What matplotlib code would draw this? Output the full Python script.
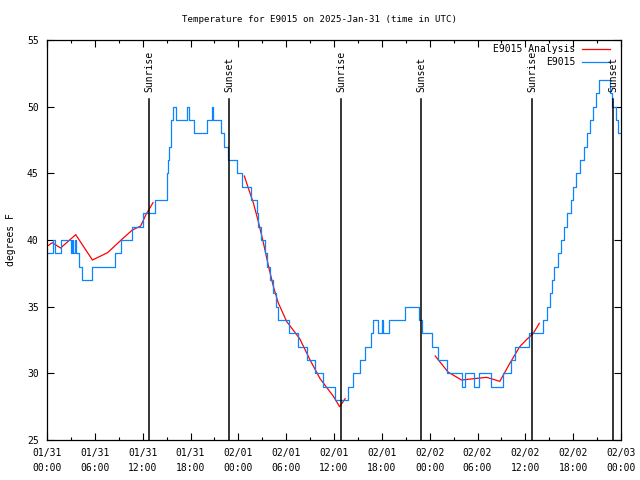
import numpy as np
import pandas as pd
import matplotlib
matplotlib.use("Agg")
import matplotlib.pyplot as plt
import matplotlib.dates as mdates

plt.rcParams['font.family'] = ['DejaVu Sans Mono']

start = pd.Timestamp('2025-01-31 00:00')

# observed temperature (hours since start, degrees F), drawn as steps
obs_hours = [0.0, 0.7, 0.95, 1.7, 3.0, 3.15, 3.3, 3.5, 3.6, 4.0, 4.4, 5.7, 8.5, 9.3,
             10.6, 12.1, 13.5, 15.0, 15.1, 15.2, 15.35, 15.5, 15.6, 15.8, 16.2,
             17.6, 17.8, 18.4, 20.1, 20.65, 20.85, 21.8, 22.2, 22.7, 23.8, 24.5,
             25.6, 26.3, 26.5, 26.9, 27.3, 27.55, 27.97, 28.4, 28.7, 29.0, 30.3,
             31.5, 32.6, 33.6, 34.6, 36.1, 37.7, 38.35, 39.2, 39.9, 40.6, 40.9,
             41.5, 42.0, 42.2, 42.9, 44.9, 46.6, 47.0, 48.25, 49.1, 50.2, 52.0,
             52.4, 53.5, 54.2, 55.7, 57.2, 58.2, 58.7, 60.5, 62.25, 62.7, 63.1,
             63.4, 63.65, 64.1, 64.5, 64.9, 65.2, 65.7, 66.0, 66.4, 66.9, 67.3,
             67.7, 68.1, 68.45, 68.9, 69.3, 70.6, 70.9, 71.4, 71.6, 72.0]
obs_temp = [39, 40, 39, 40, 39, 40, 39, 40, 39, 38, 37, 38, 39, 40,
            41, 42, 43, 44, 45, 46, 47, 48, 49, 50, 49,
            50, 49, 48, 49, 50, 49, 48, 47, 46, 45, 44,
            43, 42, 41, 40, 39, 38, 37, 36, 35, 34, 33,
            32, 31, 30, 29, 28, 29, 30, 31, 32, 33, 34,
            33, 34, 33, 34, 35, 34, 33, 32, 31, 30, 29,
            30, 29, 30, 29, 30, 31, 32, 33, 34, 35, 36,
            37, 38, 39, 40, 41, 42, 43, 44, 45, 46, 47,
            48, 49, 50, 51, 52, 51, 50, 49, 48, 48]

# analysis (three night segments)
ana1_hours = [0.2, 0.67, 1.7, 3.6, 5.7, 7.6, 9.3, 10.7, 11.75, 12.4, 13.3]
ana1_temp = [39.6, 39.8, 39.4, 40.4, 38.5, 39.05, 40.0, 40.75, 41.05, 41.9, 42.8]
ana2_hours = [24.75, 25.25, 25.9, 26.5, 27.1, 27.8, 28.4, 29.0, 30.05, 31.7,
              33.0, 34.25, 35.9, 36.7, 37.4]
ana2_temp = [44.8, 43.9, 42.75, 41.4, 39.9, 38.0, 36.5, 35.3, 33.9, 32.6,
             31.0, 29.6, 28.3, 27.5, 28.1]
ana3_hours = [48.7, 50.3, 52.0, 55.15, 56.8, 58.1, 59.3, 60.1, 61.0, 61.75]
ana3_temp = [31.3, 30.1, 29.5, 29.7, 29.4, 30.8, 32.0, 32.5, 33.0, 33.75]

sun_hours = [12.8, 22.85, 36.9, 46.9, 60.85, 71.0]
sun_labels = ['Sunrise', 'Sunset', 'Sunrise', 'Sunset', 'Sunrise', 'Sunset']


def to_time(hours):
    return start + pd.to_timedelta(np.array(hours), unit='h')


fig = plt.figure(figsize=(6.4, 4.8), dpi=100)
ax = fig.add_axes([47/640, 40/480, 574/640, 400/480])

red = '#ff0000'
blue = '#0a84ff'
for h, t in [(ana1_hours, ana1_temp), (ana2_hours, ana2_temp), (ana3_hours, ana3_temp)]:
    ax.plot(to_time(h), t, color=red, lw=0.9)
ax.plot(to_time(obs_hours), obs_temp, color=blue, lw=0.9, drawstyle='steps-post')

for h, lab in zip(sun_hours, sun_labels):
    x = to_time([h])[0]
    ax.plot([x, x], [25, 50.55], color='black', lw=1.1)
    ax.text(x, 51.1, lab, rotation=90, ha='center', va='bottom', fontsize=7)

ax.set_xlim(start, start + pd.Timedelta(hours=72))
ax.set_ylim(25, 55)
ax.set_yticks(range(25, 56, 5))
ax.xaxis.set_major_locator(mdates.HourLocator(byhour=[0, 6, 12, 18]))
ax.xaxis.set_minor_locator(mdates.HourLocator(byhour=range(0, 24, 3)))
ax.xaxis.set_major_formatter(mdates.DateFormatter('%m/%d\n%H:%M'))
ax.tick_params(which='both', direction='in', top=True, right=True, labelsize=7, width=0.8)
ax.tick_params(which='major', length=5, pad=6)
ax.tick_params(which='minor', length=2.5)
plt.setp(ax.get_xticklabels(), linespacing=1.55)
for s in ax.spines.values():
    s.set_linewidth(0.9)

ax.set_ylabel('degrees F', fontsize=7, labelpad=8)
fig.text(0.5, 1 - 20/480, 'Temperature for E9015 on 2025-Jan-31 (time in UTC)',
         ha='center', va='center', fontsize=6.6)

# gnuplot-like key: right-aligned text then sample line
for i, (lab, col) in enumerate([('E9015 Analysis', red), ('E9015', blue)]):
    yy = 0.977 - i * 0.032
    ax.text(0.921, yy, lab, transform=ax.transAxes, ha='right', va='center', fontsize=7)
    ax.plot([0.932, 0.981], [yy, yy], transform=ax.transAxes, color=col, lw=0.9)

plt.savefig('out.png', dpi=100)
